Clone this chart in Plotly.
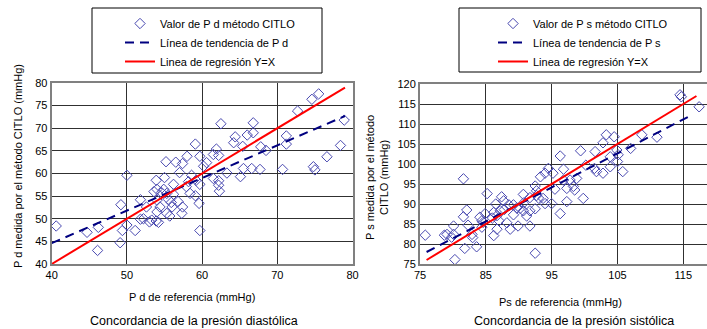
import plotly.graph_objects as go

# ---------------- Data: diastolic (Pd) ----------------
pd_ref = [62.5, 66.8, 66.8, 66.0, 64.4, 64.2, 65.4, 59.1, 59.7, 61.5, 61.9, 62.2, 58.0,
          67.8, 68.5, 71.2, 71.2, 72.7, 74.6, 75.5, 78.9, 78.4, 76.6,
          50.0, 55.2, 56.5, 57.4, 60.2, 63.3, 65.1, 65.5, 66.6, 67.7, 70.7, 74.8, 75.0,
          61.5, 62.2, 62.2, 62.3, 59.7, 59.6, 59.7, 59.1, 58.4, 57.3, 56.2, 55.3, 54.9,
          54.0, 53.9, 55.0, 54.0, 54.4, 54.0, 53.9, 54.2, 53.3, 56.0, 55.3, 55.7, 52.6,
          52.2, 51.8, 51.1, 51.8, 49.2, 50.0, 49.4, 49.1, 46.2, 46.1, 44.7, 40.6, 57.4,
          57.9, 59.2, 58.6, 55.5, 56.2, 56.8, 54.6, 53.6, 55.9, 58.2, 60.6, 57.0, 53.0]
pd_citlo = [71.0, 71.2, 69.0, 68.5, 68.1, 66.8, 66.0, 66.5, 63.8, 64.2, 65.4, 64.0, 63.8,
            65.9, 65.1, 68.3, 66.5, 73.8, 76.4, 77.6, 71.8, 66.2, 63.7,
            59.6, 62.6, 62.5, 62.2, 61.6, 60.1, 59.3, 61.1, 61.1, 60.9, 60.9, 61.5, 60.8,
            58.9, 58.4, 57.4, 56.1, 57.6, 53.4, 47.4, 55.1, 55.6, 51.2, 57.6, 55.6, 56.5,
            56.5, 58.5, 59.1, 54.1, 52.6, 51.5, 49.5, 49.2, 49.7, 52.6, 51.2, 50.6, 52.6,
            50.0, 49.9, 47.4, 54.2, 53.1, 48.6, 47.4, 44.7, 48.1, 43.0, 47.0, 48.4, 52.6,
            57.1, 58.5, 59.6, 54.3, 55.4, 53.8, 55.8, 56.0, 53.6, 58.2, 62.4, 60.2, 49.3]
pd_trend_x = [40.0, 79.0]
pd_trend_y = [44.6, 72.7]
pd_line_x = [40.0, 79.0]
pd_line_y = [40.0, 79.0]

# ---------------- Data: systolic (Ps) ----------------
ps_ref = [114.5, 114.7, 117.4, 111.0, 108.7, 107.0, 104.5, 103.3, 102.8, 101.6, 99.4, 96.3,
          104.9, 105.1, 103.9, 105.0, 103.9, 105.8, 101.8, 102.8, 101.5, 100.2, 96.8, 95.2,
          94.5, 94.0, 93.3, 92.5, 96.8, 97.8, 98.8, 98.3, 97.3, 98.5, 95.5, 95.0, 97.3,
          99.8, 96.3, 94.0, 92.5, 92.7, 91.7, 90.7, 90.7, 91.7, 91.2, 91.7, 90.7, 89.7,
          89.2, 89.2, 89.9, 88.7, 88.2, 87.4, 87.7, 87.2, 86.7, 86.2, 86.5, 87.0, 86.7,
          86.2, 85.2, 84.9, 84.4, 84.1, 84.4, 83.6, 83.0, 82.9, 82.3, 82.1, 81.6, 81.6,
          81.8, 80.3, 80.1, 79.8, 79.1, 80.1, 78.7, 75.8, 92.5, 93.7, 92.7, 88.5, 86.0,
          87.8, 90.2, 93.0, 84.6]
ps_citlo = [117.3, 116.8, 114.3, 106.7, 107.3, 103.9, 106.8, 107.3, 105.3, 103.1, 103.3, 102.0,
            103.5, 102.3, 101.8, 100.6, 99.3, 98.1, 98.1, 97.7, 98.9, 99.7, 98.7, 97.7,
            98.9, 97.7, 96.8, 94.5, 96.0, 96.0, 96.4, 94.4, 93.9, 93.5, 93.7, 90.1, 90.6,
            91.4, 87.6, 90.1, 88.8, 93.3, 91.6, 92.4, 88.3, 88.3, 87.0, 84.5, 90.2, 89.0,
            89.8, 87.3, 84.5, 83.7, 85.3, 91.8, 90.8, 88.3, 87.1, 87.9, 90.0, 85.8, 83.7,
            82.1, 92.6, 87.6, 85.8, 86.7, 84.2, 79.3, 81.6, 82.4, 84.7, 88.5, 86.8, 96.3,
            78.9, 76.1, 82.4, 81.7, 82.4, 84.5, 82.2, 82.2, 77.7, 91.4, 92.1, 89.8, 86.5,
            88.6, 88.9, 91.5, 85.4]
ps_trend_x = [76.0, 116.0]
ps_trend_y = [78.0, 112.0]
ps_line_x = [76.0, 117.0]
ps_line_y = [76.0, 117.0]

FONT = "Liberation Sans, Arial, sans-serif"
W, H = 707, 329
MK = dict(symbol="diamond-open", size=8, color="#4848b0", line=dict(width=1, color="#4848b0"))

fig = go.Figure()
fig.add_trace(go.Scatter(x=pd_ref, y=pd_citlo, mode="markers", marker=MK,
                         name="Valor de P d método CITLO", xaxis="x", yaxis="y", legend="legend"))
fig.add_trace(go.Scatter(x=pd_trend_x, y=pd_trend_y, mode="lines",
                         line=dict(color="#000080", width=2, dash="9px,6px"),
                         name="Línea de tendencia de P d", xaxis="x", yaxis="y", legend="legend"))
fig.add_trace(go.Scatter(x=pd_line_x, y=pd_line_y, mode="lines",
                         line=dict(color="#ff0000", width=2),
                         name="Linea de regresión Y=X", xaxis="x", yaxis="y", legend="legend"))

fig.add_trace(go.Scatter(x=ps_ref, y=ps_citlo, mode="markers", marker=MK,
                         name="Valor de P s método CITLO", xaxis="x2", yaxis="y2", legend="legend2"))
fig.add_trace(go.Scatter(x=ps_trend_x, y=ps_trend_y, mode="lines",
                         line=dict(color="#000080", width=2, dash="9px,6px"),
                         name="Línea de tendencia de P s", xaxis="x2", yaxis="y2", legend="legend2"))
fig.add_trace(go.Scatter(x=ps_line_x, y=ps_line_y, mode="lines",
                         line=dict(color="#ff0000", width=2),
                         name="Linea de regresión Y=X", xaxis="x2", yaxis="y2", legend="legend2"))

axcommon = dict(showgrid=True, gridcolor="#303030", gridwidth=1, zeroline=False,
                showline=True, linecolor="#808080", linewidth=2, mirror=True,
                ticks="", tickfont=dict(family=FONT, size=11, color="black"), automargin=False)


def ann(text, x, y, size=11, angle=0):
    return dict(text=text, xref="paper", yref="paper", x=x / W, y=1 - y / H,
                xanchor="center", yanchor="middle", textangle=angle, showarrow=False,
                font=dict(family=FONT, size=size, color="black"))


fig.update_layout(
    width=W, height=H, margin=dict(l=0, r=0, t=0, b=0),
    paper_bgcolor="white", plot_bgcolor="white",
    font=dict(family=FONT, size=11, color="black"),
    xaxis=dict(domain=[51.7 / W, 352.5 / W], range=[40, 80], tickvals=[40, 50, 60, 70, 80], anchor="y", **axcommon),
    yaxis=dict(domain=[1 - 264 / H, 1 - 83 / H], range=[40, 80], tickvals=list(range(40, 81, 5)), anchor="x", **axcommon),
    xaxis2=dict(domain=[420 / W, 1.0], range=[75, 118.6], tickvals=[75, 85, 95, 105, 115], anchor="y2", **axcommon),
    yaxis2=dict(domain=[1 - 264 / H, 1 - 84 / H], range=[75, 120], tickvals=list(range(75, 121, 5)), anchor="x2", **axcommon),
    legend=dict(x=120 / W, y=1 - 9 / H, xanchor="left", yanchor="top", bgcolor="rgba(0,0,0,0)",
                borderwidth=0, font=dict(family=FONT, size=11), tracegroupgap=0),
    legend2=dict(x=493 / W, y=1 - 9 / H, xanchor="left", yanchor="top", bgcolor="rgba(0,0,0,0)",
                 borderwidth=0, font=dict(family=FONT, size=11), tracegroupgap=0),
    shapes=[
        dict(type="rect", xref="paper", yref="paper", x0=92 / W, x1=322 / W, y0=1 - 73 / H, y1=1 - 8 / H,
             line=dict(color="black", width=1), fillcolor="rgba(0,0,0,0)", layer="below"),
        dict(type="rect", xref="paper", yref="paper", x0=459 / W, x1=701 / W, y0=1 - 72 / H, y1=1 - 8 / H,
             line=dict(color="black", width=1), fillcolor="rgba(0,0,0,0)", layer="below"),
    ],
    annotations=[
        ann("P d medida por el método CITLO (mmHg)", 18, 166, angle=-90),
        ann("P s medida por el método<br>CITLO (mmHg)", 377, 178, angle=-90),
        ann("P d de referencia (mmHg)", 192, 297),
        ann("Ps de referencia (mmHg)", 560, 302),
        ann("Concordancia de la presión diastólica", 194, 321, size=12.5),
        ann("Concordancia de la presión sistólica", 574, 321, size=12.5),
    ],
)

fig.write_html("out.html", config={"displayModeBar": False},
               post_script="document.body.style.margin='0';document.body.style.overflow='hidden';")
